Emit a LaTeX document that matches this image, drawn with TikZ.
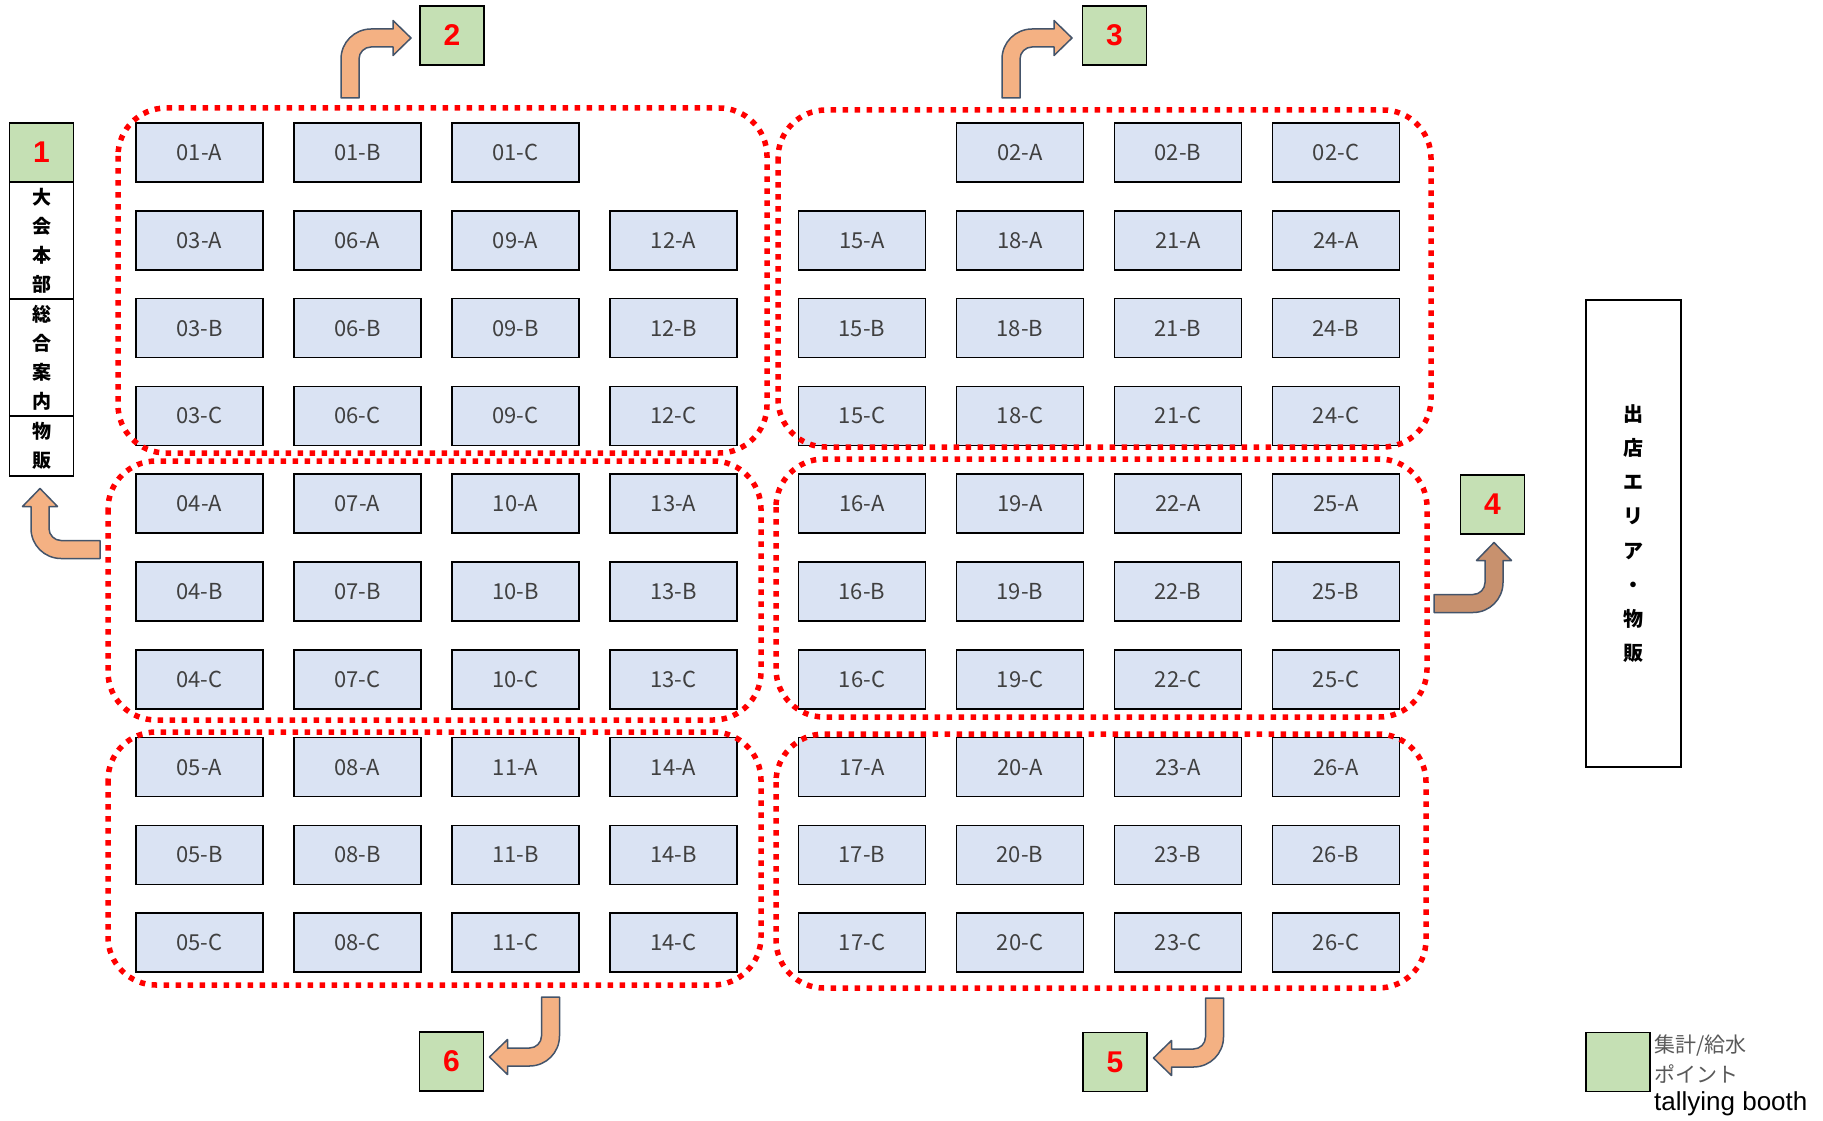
\documentclass[tikz,border=0pt]{standalone}
\usepackage{fontspec}
\setmainfont{Liberation Sans}
\newfontfamily\jp{Noto Sans CJK JP}
\definecolor{cellblue}{HTML}{DAE3F3}
\definecolor{boothgreen}{HTML}{C5E0B4}
\definecolor{arroworange}{HTML}{F4B183}
\definecolor{arrowbrown}{HTML}{C8916E}
\definecolor{arrowline}{HTML}{44546A}
\definecolor{labelgray}{HTML}{404040}
\definecolor{keygray}{HTML}{595959}
\tikzset{
  cell/.style={draw=black, line width=1.5pt, fill=cellblue, minimum width=127pt,
    minimum height=59pt, inner sep=0pt, text=labelgray, font=\jp\fontsize{22}{22}\selectfont},
  boothbox/.style={draw=black, line width=1.8pt, fill=boothgreen, minimum width=64pt,
    minimum height=59pt, inner sep=0pt, text=red, font=\bfseries\fontsize{30}{30}\selectfont},
  sidebox/.style={draw=black, line width=1.5pt, fill=white, minimum width=64pt,
    inner sep=0pt, align=center},
  zone/.style={draw=red, line width=5.5pt, dash pattern=on 5.5pt off 6.5pt, rounded corners=48pt},
  arrowpic/.style={draw=arrowline, line width=1.5pt, fill=arroworange, line join=round},
  turnarrow/.pic={
    \path[pic actions] (-9,0) -- (-9,-39) .. controls (-9,-55.6) and (4.4,-69) .. (21,-69)
      -- (43,-69) -- (43,-77.5) -- (61,-60) -- (43,-42.5) -- (43,-51) -- (21,-51)
      .. controls (14.4,-51) and (9,-45.6) .. (9,-39) -- (9,0) -- cycle;
  }
}
\begin{document}
\begin{tikzpicture}[x=1pt, y=-1pt]
	\useasboundingbox (0,0) rectangle (1823,1121);
	% first row
	\foreach \lt [count=\col from 0] in {A,B,C} {
		\node[cell] (c1\lt) at (199.5+158*\col,152.5) {01-\lt};
		\node[cell] (c2\lt) at (1020+158*\col,152.5) {02-\lt};
	}
	% stalls
	\foreach \grp [count=\gi from 0] in {3,4,5}
		\foreach \lt [count=\li] in {A,B,C}
			\foreach \col in {0,1,2,3} {
				\pgfmathtruncatemacro{\nl}{\grp+3*\col}
				\pgfmathtruncatemacro{\nr}{\grp+12+3*\col}
				\pgfmathsetmacro{\yrow}{152.5+87.8*(3*\gi+\li)}
				\node[cell] (c\nl\lt) at (199.5+158*\col,\yrow) {\ifnum\nl<10 0\fi\nl-\lt};
				\node[cell] (c\nr\lt) at (862+158*\col,\yrow) {\nr-\lt};
			}
	% zones
	\draw[zone] (118,108) rectangle (767,453);
	\draw[zone] (778,110) rectangle (1431,447);
	\draw[zone] (108,461) rectangle (761,720);
	\draw[zone] (776,459) rectangle (1427,717);
	\draw[zone] (108,732) rectangle (761,985);
	\draw[zone] (776,734) rectangle (1426,988);
	% headquarters column
	\node[boothbox] (g1) at (41.5,152.5) {1};
	\node[sidebox, minimum height=117pt, font=\jp\bfseries\fontsize{19}{29}\selectfont] (hq) at (41.5,240.5) {大\\会\\本\\部};
	\node[sidebox, minimum height=117pt, font=\jp\bfseries\fontsize{19}{29}\selectfont] (info) at (41.5,357.5) {総\\合\\案\\内};
	\node[sidebox, minimum height=60pt, font=\jp\bfseries\fontsize{19}{29}\selectfont] (shop) at (41.5,446) {物\\販};
	% shop area
	\node[sidebox, minimum width=95pt, minimum height=467pt, font=\jp\bfseries\fontsize{20}{34.2}\selectfont] (area) at (1633.5,533.5) {出\\店\\エ\\リ\\ア\\・\\物\\販};
	% booths
	\node[boothbox] (g2) at (452,35.5) {2};
	\node[boothbox] (g3) at (1114.5,35.5) {3};
	\node[boothbox] (g4) at (1492.5,504.5) {4};
	\node[boothbox] (g5) at (1115,1062) {5};
	\node[boothbox] (g6) at (451.5,1061.5) {6};
	% arrows
	\pic[arrowpic] at (350,98) {turnarrow};
	\pic[arrowpic] at (1011,98) {turnarrow};
	\pic[arrowpic, rotate=90] at (100,549.5) {turnarrow};
	\pic[arrowpic, fill=arrowbrown, xscale=-1, rotate=90] at (1434,603.5) {turnarrow};
	\pic[arrowpic, rotate=180] at (1214.5,998) {turnarrow};
	\pic[arrowpic, rotate=180] at (550.5,997) {turnarrow};
	% legend
	\node[boothbox] (key) at (1618,1062) {};
	\node[anchor=west, inner sep=0pt, text=keygray, font=\jp\fontsize{21}{21}\selectfont] (keyjp) at (1654,1046) {集計/給水};
	\node[anchor=west, inner sep=0pt, text=keygray, font=\jp\fontsize{21}{21}\selectfont] (keypt) at (1654,1074) {ポイント};
	\node[anchor=west, inner sep=0pt, font=\fontsize{26}{26}\selectfont] (keyen) at (1654,1104) {tallying booth};
\end{tikzpicture}
\end{document}
